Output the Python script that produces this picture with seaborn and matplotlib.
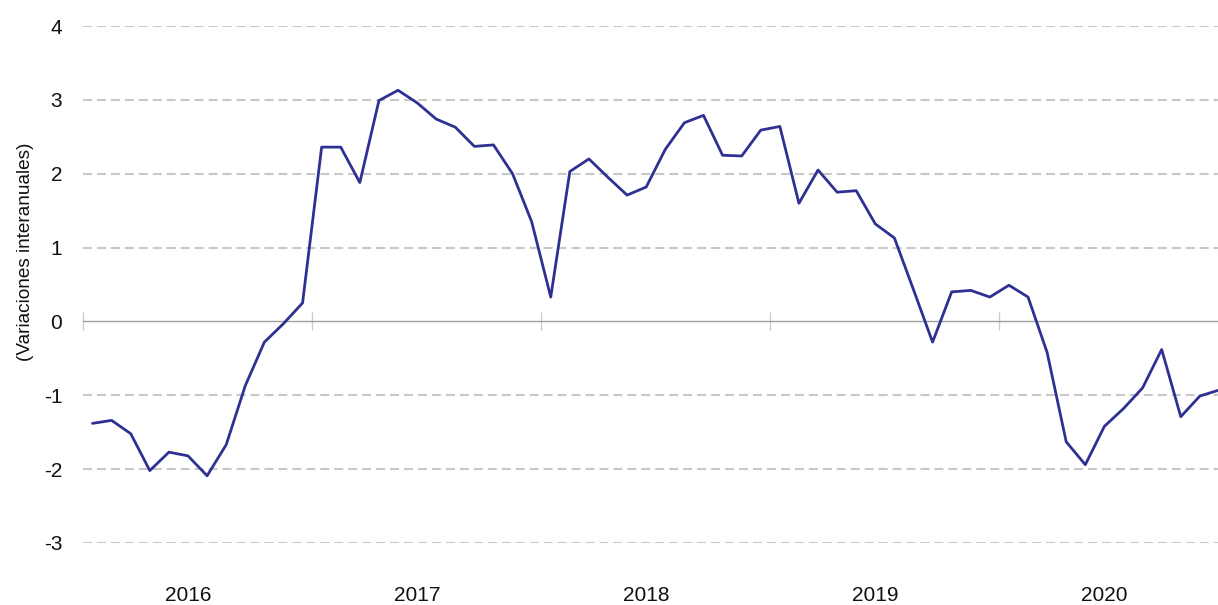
import numpy as np
import pandas as pd
import matplotlib
matplotlib.use("Agg")
import matplotlib.pyplot as plt
import seaborn as sns

years = [2016, 2017, 2018, 2019, 2020]
months_per_year = 12
values_2016 = [-1.38, -1.34, -1.52, -2.02, -1.77, -1.82, -2.09, -1.67, -0.87, -0.28, -0.03, 0.25]
values_2017 = [2.36, 2.36, 1.88, 2.99, 3.13, 2.96, 2.74, 2.63, 2.37, 2.39, 2.00, 1.35]
values_2018 = [0.33, 2.03, 2.20, 1.95, 1.71, 1.82, 2.33, 2.69, 2.79, 2.25, 2.24, 2.59]
values_2019 = [2.64, 1.60, 2.05, 1.75, 1.77, 1.32, 1.13, 0.43, -0.28, 0.40, 0.42, 0.33]
values_2020 = [0.49, 0.33, -0.42, -1.63, -1.94, -1.42, -1.18, -0.90, -0.38, -1.29, -1.01, -0.93]
y_ticks = [-3, -2, -1, 0, 1, 2, 3, 4]
y_label = "(Variaciones interanuales)"

values = values_2016 + values_2017 + values_2018 + values_2019 + values_2020
df = pd.DataFrame({"t": np.arange(len(values)), "v": values})

sns.set_theme(style="white")
plt.rcParams["font.family"] = ["Liberation Sans", "DejaVu Sans"]

fig = plt.figure(figsize=(12.18, 6.05), dpi=100)
ax = fig.add_axes([83 / 1218, (605 - 543) / 605, (1218 - 83) / 1218, (543 - 26) / 605])

# grid lines
for yt in y_ticks:
    if yt != 0:
        ax.axhline(yt, color="#c8c8c8", lw=1.5, ls=(0, (4.3, 2.4)), zorder=0)

sns.lineplot(data=df, x="t", y="v", ax=ax, color="#2e3192", lw=2.0, zorder=3)

ax.set_xlim(-0.5, len(values) - 1.05)
ax.set_ylim(min(y_ticks), max(y_ticks))

# zero line with year boundary ticks
for s in ["top", "right", "left"]:
    ax.spines[s].set_visible(False)
ax.spines["bottom"].set_position(("data", 0))
ax.spines["bottom"].set_color("#a0a0a0")
ax.spines["bottom"].set_linewidth(1.0)
boundaries = [i * months_per_year - 0.5 for i in range(len(years))]
ax.set_xticks(boundaries)
ax.set_xticklabels([])
ax.tick_params(axis="x", bottom=True, direction="inout", length=13, width=1, color="#cccccc")

ax.set_yticks(y_ticks)
ax.set_yticklabels([str(v) for v in y_ticks], fontsize=15)
ax.tick_params(axis="y", left=False, length=0, pad=15, labelcolor="#111111")
ax.set_xlabel("")
ax.set_ylabel(y_label, fontsize=13.7, color="#111111")
ax.yaxis.set_label_coords((34 - 83) / 1135, (543 - 252) / 517)

# year labels at bottom
sec = ax.secondary_xaxis("bottom")
sec.set_xticks([i * months_per_year + 5 for i in range(len(years))])
sec.set_xticklabels([str(y) for y in years], fontsize=15, color="#111111")
sec.tick_params(bottom=False, length=0, pad=31)
sec.spines["bottom"].set_visible(False)

fig.savefig("out.png", dpi=100)
